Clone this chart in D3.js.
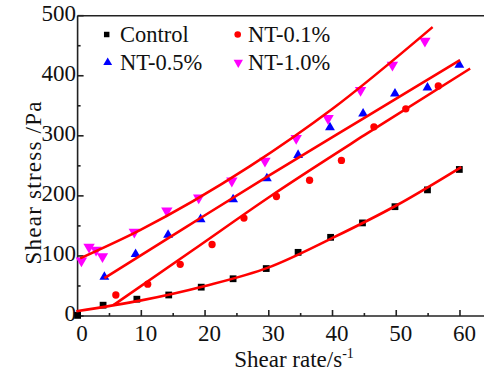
<!DOCTYPE html>
<html><head><meta charset="utf-8">
<script src="https://cdn.jsdelivr.net/npm/d3@7"></script>
<style>
html,body{margin:0;padding:0;background:#fff;}
svg{display:block;font-family:"Liberation Serif","Times New Roman",serif;}
</style></head>
<body>
<svg id="c" width="484" height="382"></svg>
<script>
// ---- data ----
const seriesNames = ["Control", "NT-0.1%", "NT-0.5%", "NT-1.0%"];
const controlX = [0, 4, 9.3, 14.3, 19.4, 24.4, 29.6, 34.6, 39.7, 44.7, 49.8, 54.9, 59.9];
const controlY = [1, 18, 28, 35, 48, 62, 79, 106, 131, 155, 182, 210, 244];
const nt01X = [6.0, 11.0, 16.1, 21.1, 26.1, 31.2, 36.4, 41.4, 46.5, 51.5, 56.6];
const nt01Y = [35, 53, 86, 119, 163, 199, 226, 259, 315, 345, 383];
const nt05X = [4.2, 9.1, 14.2, 19.3, 24.4, 29.7, 34.6, 39.6, 44.8, 49.8, 54.9, 59.9];
const nt05Y = [65, 103, 135, 161, 194, 229, 268, 314, 337, 370, 380, 418];
const nt10X = [0.6, 1.8, 2.9, 3.9, 8.9, 14.0, 19.0, 24.2, 29.4, 34.3, 39.3, 44.4, 49.4, 54.5];
const nt10Y = [92, 115, 110, 99, 140, 175, 197, 225, 258, 296, 329, 376, 418, 458];
// fitted curves
const fitControlX = [-0.2, 10, 20, 30, 40, 50, 60.2];
const fitControlY = [8, 26, 50, 81, 130, 184, 248];
const fit01X = [5.6, 18, 30.2, 45, 61.6];
const fit01Y = [18, 109, 199, 301, 412];
const fit05X = [4.2, 17, 30.2, 45, 60];
const fit05Y = [63, 148, 235, 330, 426];
const fit10X = [0.4, 9.8, 27, 40, 55.7];
const fit10Y = [96, 143, 249, 345, 481];
const xTicks = [0, 10, 20, 30, 40, 50, 60];
const xMinor = [5, 15, 25, 35, 45, 55];
const yTicks = [0, 100, 200, 300, 400, 500];
const yMinor = [50, 150, 250, 350, 450];

const svg = d3.select("#c");
const x = d3.scaleLinear().domain([0, 63.77]).range([77.6, 484]);
const y = d3.scaleLinear().domain([0, 500]).range([316, 15.7]);
const X0 = x(0), Y0 = y(0), YT = y(500);

const zip = (a, b) => a.map((v, i) => [v, b[i]]);

// axes
const ax = svg.append("g").attr("stroke", "#222").attr("stroke-width", 1.6).attr("fill", "none");
ax.append("line").attr("x1", X0).attr("x2", 484).attr("y1", Y0).attr("y2", Y0);
ax.append("line").attr("x1", X0).attr("x2", X0).attr("y1", Y0 + 0.8).attr("y2", YT);
ax.append("line").attr("x1", X0).attr("x2", 484).attr("y1", YT).attr("y2", YT);

// ticks
xTicks.forEach(t => ax.append("line").attr("x1", x(t)).attr("x2", x(t)).attr("y1", Y0).attr("y2", Y0 - 6));
xMinor.forEach(t => ax.append("line").attr("x1", x(t)).attr("x2", x(t)).attr("y1", Y0).attr("y2", Y0 - 3));
yTicks.forEach(t => ax.append("line").attr("x1", X0).attr("x2", X0 + 6).attr("y1", y(t)).attr("y2", y(t)));
yMinor.forEach(t => ax.append("line").attr("x1", X0).attr("x2", X0 + 3).attr("y1", y(t)).attr("y2", y(t)));

const lab = svg.append("g").attr("fill", "#111").attr("font-size", 23);
xTicks.forEach(t => lab.append("text").attr("x", x(t) + 4.5).attr("y", 341).attr("text-anchor", "middle").text(t));
yTicks.forEach(t => lab.append("text").attr("x", 76).attr("y", y(t) + 5).attr("text-anchor", "end").text(t));

// titles
const xt = svg.append("text").attr("x", 294).attr("y", 367).attr("text-anchor", "middle")
  .attr("font-size", 23).attr("fill", "#111");
xt.append("tspan").text("Shear rate/s");
xt.append("tspan").attr("font-size", 14).attr("dy", -9).text("-1");
svg.append("text").attr("transform", "translate(41,183) rotate(-90)").attr("text-anchor", "middle")
  .attr("font-size", 23).attr("fill", "#111").attr("textLength", 163).attr("lengthAdjust", "spacing")
  .text("Shear stress /Pa");

// fit lines
const line = d3.line().x(d => x(d[0])).y(d => y(d[1])).curve(d3.curveMonotoneX);
const fits = [zip(fitControlX, fitControlY), zip(fit01X, fit01Y), zip(fit05X, fit05Y), zip(fit10X, fit10Y)];

// markers
const sq = d3.symbol().type(d3.symbolSquare).size(46)();
const ci = d3.symbol().type(d3.symbolCircle).size(42)();
const tri = d3.symbol().type(d3.symbolTriangle).size(42)();
const shapes = [
  {data: zip(controlX, controlY), path: sq, color: "#000000", rot: 0},
  {data: zip(nt01X, nt01Y), path: ci, color: "#ff0000", rot: 0},
  {data: zip(nt05X, nt05Y), path: tri, color: "#0000ff", rot: 0},
  {data: zip(nt10X, nt10Y), path: d3.symbol().type(d3.symbolTriangle).size(56)(), color: "#ff00ff", rot: 180}
];
shapes.forEach(s => {
  svg.append("g").selectAll("path").data(s.data).join("path")
    .attr("d", s.path).attr("fill", s.color)
    .attr("transform", d => `translate(${x(d[0])},${y(d[1])}) rotate(${s.rot})`);
});
fits.forEach(f => svg.append("path").datum(f).attr("d", line).attr("fill", "none")
  .attr("stroke", "#ff0000").attr("stroke-width", 2.6));

// legend
const legPos = [[106.7, 34.5, 120, 42], [237.7, 34.5, 248, 42], [107.7, 62.5, 120, 70], [238.3, 62.5, 248, 70]];
const legSym = [d3.symbol().type(d3.symbolSquare).size(30)(), d3.symbol().type(d3.symbolCircle).size(34)(),
  d3.symbol().type(d3.symbolTriangle).size(34)(), d3.symbol().type(d3.symbolTriangle).size(38)()];
seriesNames.forEach((n, i) => {
  const p = legPos[i];
  svg.append("path").attr("d", legSym[i]).attr("fill", shapes[i].color)
    .attr("transform", `translate(${p[0]},${p[1]}) rotate(${shapes[i].rot})`);
  svg.append("text").attr("x", p[2]).attr("y", p[3]).attr("font-size", 22.5).attr("fill", "#111").text(n);
});
</script>
</body></html>
